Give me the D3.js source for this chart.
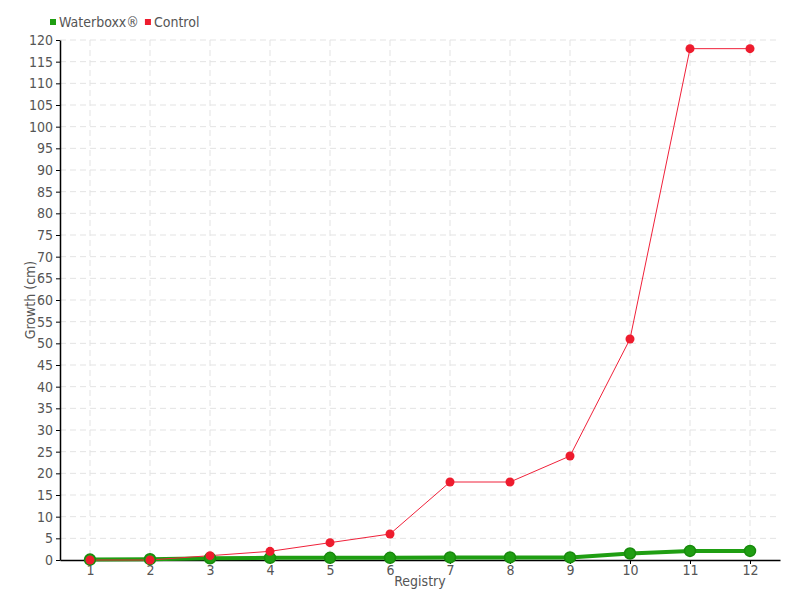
<!DOCTYPE html>
<html>
<head>
<meta charset="utf-8">
<script src="https://cdn.jsdelivr.net/npm/d3@7"></script>
<style>
  body { margin: 0; background: #fff; }
  svg text { font-family: "DejaVu Sans Condensed", "Liberation Sans Narrow", sans-serif; fill: #555; }
</style>
</head>
<body>
<svg id="chart" width="800" height="600"></svg>
<script>
// data
const registries = [1, 2, 3, 4, 5, 6, 7, 8, 9, 10, 11, 12];
const waterboxx = [0.1, 0.2, 0.4, 0.5, 0.5, 0.5, 0.6, 0.6, 0.6, 1.5, 2.1, 2.1];
const control = [0, 0, 1, 2, 4, 6, 18, 18, 24, 51, 118, 118];
const yTicks = d3.range(0, 121, 5);

const margin = { top: 40, right: 20, bottom: 40, left: 60 };
const width = 800, height = 600;

const svg = d3.select('#chart');

const x = d3.scalePoint()
  .domain(registries)
  .range([margin.left, width - margin.right])
  .padding(0.5);

const y = d3.scaleLinear()
  .domain([0, 120])
  .range([height - margin.bottom, margin.top]);

// grid
const grid = svg.append('g');
grid.selectAll('line.h')
  .data(yTicks.filter(d => d > 0))
  .enter().append('line')
  .attr('x1', margin.left).attr('x2', width - margin.right)
  .attr('y1', d => y(d)).attr('y2', d => y(d))
  .attr('stroke', '#e3e3e3').attr('stroke-dasharray', '6,4');
grid.selectAll('line.v')
  .data(registries)
  .enter().append('line')
  .attr('x1', d => x(d)).attr('x2', d => x(d))
  .attr('y1', margin.top).attr('y2', height - margin.bottom)
  .attr('stroke', '#e3e3e3').attr('stroke-dasharray', '6,4');

// axes
const yAxis = svg.append('g')
  .attr('transform', `translate(${margin.left},0)`)
  .call(d3.axisLeft(y).tickValues(yTicks).tickSize(4).tickPadding(3).tickSizeOuter(0));
yAxis.selectAll('text').style('font-size', '14px');

const xAxis = svg.append('g')
  .attr('transform', `translate(0,${height - margin.bottom})`)
  .call(d3.axisBottom(x).tickSize(4).tickPadding(1).tickSizeOuter(0));
xAxis.selectAll('text').style('font-size', '14px');

svg.selectAll('.domain').attr('stroke', '#000').attr('stroke-width', 1.5);
svg.selectAll('.tick line').attr('stroke', '#000');

// axis labels
svg.append('text')
  .attr('x', (margin.left + width - margin.right) / 2)
  .attr('y', 586)
  .attr('text-anchor', 'middle')
  .style('font-size', '14px')
  .text('Registry');

svg.append('text')
  .attr('transform', 'translate(35,300) rotate(-90)')
  .attr('text-anchor', 'middle')
  .style('font-size', '14px')
  .text('Growth (cm)');

// lines
const line = d3.line()
  .x((d, i) => x(registries[i]))
  .y(d => y(d));

svg.append('path')
  .datum(waterboxx)
  .attr('fill', 'none')
  .attr('stroke', '#1f9e12')
  .attr('stroke-width', 4)
  .attr('d', line);

svg.append('path')
  .datum(control)
  .attr('fill', 'none')
  .attr('stroke', '#f0213a')
  .attr('stroke-width', 1)
  .attr('d', line);

svg.append('g').selectAll('circle')
  .data(waterboxx)
  .enter().append('circle')
  .attr('cx', (d, i) => x(registries[i]))
  .attr('cy', d => y(d))
  .attr('r', 5.5)
  .attr('fill', '#1f9e12')
  .attr('stroke', '#178a0c')
  .attr('stroke-width', 1.5);

svg.append('g').selectAll('circle')
  .data(control)
  .enter().append('circle')
  .attr('cx', (d, i) => x(registries[i]))
  .attr('cy', d => y(d))
  .attr('r', 4.5)
  .attr('fill', '#ee1c2e');

// legend
const legendItems = [
  { name: 'Waterboxx®', color: '#1f9e12' },
  { name: 'Control', color: '#ee1c2e' }
];
const legend = svg.append('g').attr('transform', 'translate(50,22)');
let lx = 0;
legendItems.forEach(item => {
  legend.append('rect')
    .attr('x', lx).attr('y', -3)
    .attr('width', 6).attr('height', 6)
    .attr('fill', item.color);
  const t = legend.append('text')
    .attr('x', lx + 9).attr('y', 5)
    .style('font-size', '14px')
    .text(item.name);
  lx += 9 + t.node().getComputedTextLength() + 6;
});
</script>
</body>
</html>
